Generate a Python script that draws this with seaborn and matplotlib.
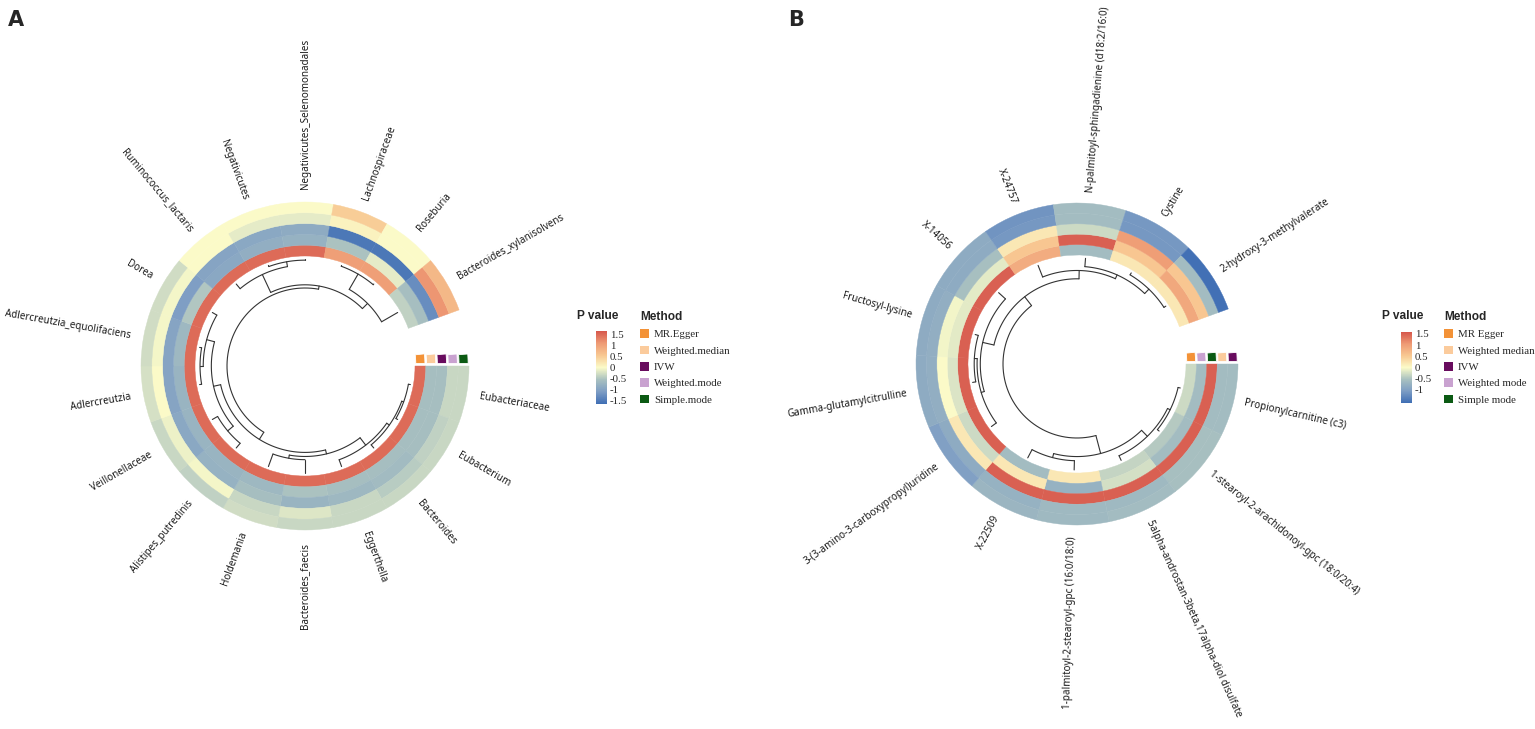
import numpy as np
import matplotlib
matplotlib.use("Agg")
import matplotlib.pyplot as plt
import seaborn as sns
from matplotlib.cm import ScalarMappable
from matplotlib.colors import Normalize
from matplotlib.patches import Patch
from matplotlib.font_manager import FontProperties

# ---------------- panel A data (clockwise from the gap) ----------------
A_TAXA = [
    "Eubacteriaceae", "Eubacterium", "Bacteroides", "Eggerthella",
    "Bacteroides_faecis", "Holdemania", "Alistipes_putredinis",
    "Veillonellaceae", "Adlercreutzia", "Adlercreutzia_equolifaciens",
    "Dorea", "Ruminococcus_lactaris", "Negativicutes",
    "Negativicutes_Selenomonadales", "Lachnospiraceae", "Roseburia",
    "Bacteroides_xylanisolvens",
]
A_METHODS = ["MR.Egger", "Weighted.median", "IVW", "Weighted.mode", "Simple.mode"]
A_EGGER = [1.5, 1.5, 1.5, 1.5, 1.5, 1.5, 1.5, 1.5, 1.5, 1.5, 1.5, 1.5, 1.5, 1.5, 1.05, 1.05, -0.4]
A_WMEDIAN = [-0.6, -0.6, -0.6, -0.6, -0.55, -0.7, -0.75, -0.75, -0.75, -0.7, -0.5, -0.95, -0.85, -0.8, -0.55, -0.15, -0.6]
A_IVW = [-0.6, -0.6, -0.65, -0.7, -0.75, -0.6, -0.8, -0.95, -1.0, -1.0, -1.1, -1.0, -0.95, -0.9, -1.55, -1.55, -1.3]
A_WMODE = [-0.35, -0.4, -0.45, -0.35, -0.2, -0.35, -0.05, -0.1, 0.0, -0.05, -0.05, 0.0, -0.15, -0.15, 0.1, 0.0, 1.15]
A_SMODE = [-0.35, -0.35, -0.35, -0.35, -0.35, -0.3, -0.4, -0.35, -0.25, -0.3, -0.3, 0.0, 0.0, 0.0, 0.5, 0.0, 0.75]
# dendrogram merges: (left node, right node, height); leaves are 0..16, new nodes 17, 18, ...
A_TREE = [
    (0, 1, 0.07), (17, 2, 0.14), (18, 3, 0.25), (4, 5, 0.46), (19, 20, 0.57),
    (6, 7, 0.21), (8, 9, 0.07), (23, 10, 0.18), (22, 24, 0.46), (21, 25, 0.71),
    (12, 13, 0.04), (11, 27, 0.21), (14, 15, 0.03), (29, 16, 0.64), (28, 30, 0.89),
    (26, 31, 1.0),
]

# ---------------- panel B data ----------------
B_METABOLITES = [
    "Propionylcarnitine (c3)", "1-stearoyl-2-arachidonoyl-gpc (18:0/20:4)",
    "5alpha-androstan-3beta,17alpha-diol disulfate",
    "1-palmitoyl-2-stearoyl-gpc (16:0/18:0)", "X-22509",
    "3-(3-amino-3-carboxypropyl)uridine", "Gamma-glutamylcitrulline",
    "Fructosyl-lysine", "X-14056", "X-24757",
    "N-palmitoyl-sphingadienine (d18:2/16:0)", "Cystine",
    "2-hydroxy-3-methylvalerate",
]
B_METHODS = ["MR Egger", "Weighted median", "IVW", "Weighted mode", "Simple mode"]
B_RING_ORDER = ["MR Egger", "Weighted mode", "Simple mode", "Weighted median", "IVW"]
B_EGGER = [-0.3, -0.45, -0.35, 0.2, -0.6, 1.5, 1.5, 1.5, 1.5, 0.85, -0.6, 0.2, 0.2]
B_WMODE = [-0.6, -0.6, -0.25, -0.75, 0.2, -0.3, -0.2, -0.15, -0.15, 0.55, 1.5, 0.55, 0.9]
B_SMODE = [1.5, 1.5, 1.5, 1.5, 1.5, 0.2, 0.0, -0.05, -0.55, 0.2, -0.3, 1.0, 0.55]
B_WMEDIAN = [-0.6, -0.55, -0.65, -0.65, -0.75, -0.85, -0.8, -0.8, -0.85, -1.1, -0.6, -1.1, -0.6]
B_IVW = [-0.6, -0.55, -0.6, -0.65, -0.7, -1.0, -0.85, -0.85, -0.85, -1.15, -0.6, -1.1, -1.55]
B_TREE = [
    (0, 1, 0.07), (13, 2, 0.16), (3, 4, 0.29), (15, 14, 0.42), (6, 7, 0.1),
    (5, 17, 0.19), (18, 8, 0.29), (11, 12, 0.07), (10, 20, 0.26), (9, 21, 0.39),
    (19, 22, 0.65), (16, 23, 1.0),
]

METHOD_COLORS = {
    "MR.Egger": "#f39237", "MR Egger": "#f39237",
    "Weighted.median": "#fbcb9c", "Weighted median": "#fbcb9c",
    "IVW": "#680c5e",
    "Weighted.mode": "#c9a2d0", "Weighted mode": "#c9a2d0",
    "Simple.mode": "#0b5a13", "Simple mode": "#0b5a13",
}

W, H = 1535, 729
CMAP = sns.blend_palette(
    ["#3f6eb4", "#7d9dc4", "#a9c1c0", "#fbfbc9", "#f8c892", "#ee9a74", "#d6574c"],
    as_cmap=True,
)
SERIF = FontProperties(family="Liberation Serif", size=7.8)
TITLE = FontProperties(family="Liberation Sans", weight="bold", size=8.6)
LABEL = FontProperties(family="Noto Sans", size=7.1)


def polar_axes(fig, cx, cy, radius=210):
    ax = fig.add_axes([(cx - radius) / W, (H - cy - radius) / H, 2 * radius / W, 2 * radius / H],
                      projection="polar")
    ax.set_theta_zero_location("E")
    ax.set_theta_direction(-1)
    ax.set_ylim(0, radius)
    ax.set_axis_off()
    return ax


def draw_circos(ax, labels, methods, rings, tree, norm, r_in, ring_w, r_leaf, r_root, label_gap):
    n = len(labels)
    width = np.deg2rad(340) / n
    theta = (np.arange(n) + 0.5) * width
    for k, vals in enumerate(rings):
        cols = CMAP(norm(np.array(vals)))
        ax.bar(theta, ring_w, width=width, bottom=r_in + k * ring_w, color=cols,
               edgecolor=cols, linewidth=0.3, align="center")
        # method key squares in the gap
        rc = r_in + (k + 0.5) * ring_w
        side = ring_w * 0.85
        ax.bar(-(side / 2 + 2.5) / rc, side, width=side / rc, bottom=rc - side / 2,
               color=METHOD_COLORS[methods[k]], edgecolor="white", linewidth=0.6)

    # dendrogram, leaves at r_leaf, tallest merge at r_root
    max_h = max(h for _, _, h in tree)
    pos = {i: (theta[i], r_leaf) for i in range(n)}
    for j, (a, b, h) in enumerate(tree):
        r_node = r_leaf - h / max_h * (r_leaf - r_root)
        ta, ra = pos[a]
        tb, rb = pos[b]
        ax.plot([ta, ta], [ra, r_node], color="#333333", lw=0.8)
        ax.plot([tb, tb], [rb, r_node], color="#333333", lw=0.8)
        arc = np.linspace(ta, tb, 60)
        ax.plot(arc, np.full_like(arc, r_node), color="#333333", lw=0.8)
        pos[n + j] = ((ta + tb) / 2, r_node)

    r_out = r_in + len(rings) * ring_w
    for i, lab in enumerate(labels):
        a = -np.rad2deg(theta[i])
        a = (a + 180) % 360 - 180
        if -90 < a <= 90:
            rot, ha = a, "left"
        else:
            rot, ha = a + 180, "right"
        ax.text(theta[i], r_out + label_gap, lab, rotation=rot, ha=ha, va="center",
                rotation_mode="anchor", fontproperties=LABEL, color="#1a1a1a")


def legends(fig, methods, norm, ticks, cbar_x, cbar_top, cbar_bottom, method_x):
    cax = fig.add_axes([cbar_x / W, 1 - cbar_bottom / H, 11 / W, (cbar_bottom - cbar_top) / H])
    cb = fig.colorbar(ScalarMappable(norm=norm, cmap=CMAP), cax=cax, ticks=ticks)
    cb.outline.set_visible(False)
    cax.tick_params(length=3, width=0.6, color="white", direction="in", pad=2)
    cax.set_yticklabels([f"{t:g}" for t in ticks], fontproperties=SERIF)
    fig.text((cbar_x - 19) / W, 1 - 316 / H, "P value", fontproperties=TITLE, va="center")

    handles = [Patch(facecolor=METHOD_COLORS[m], edgecolor="none") for m in methods]
    fig.legend(handles, methods, loc="upper left",
               bbox_to_anchor=(method_x / W, 1 - 311 / H), frameon=False,
               title="Method", title_fontproperties=TITLE, prop=SERIF,
               alignment="left", borderpad=0, borderaxespad=0,
               handlelength=0.85, handleheight=0.85, handletextpad=0.45,
               labelspacing=0.58)


def main() -> None:
    sns.set_theme(style="white")
    plt.rcParams["font.family"] = ["DejaVu Sans"]
    fig = plt.figure(figsize=(W / 100, H / 100), dpi=100)

    ax_a = polar_axes(fig, 305, 366)
    norm_a = Normalize(-1.68, 1.68)
    draw_circos(ax_a, A_TAXA, A_METHODS, [A_EGGER, A_WMEDIAN, A_IVW, A_WMODE, A_SMODE],
                A_TREE, norm_a, r_in=110, ring_w=10.8, r_leaf=107, r_root=78, label_gap=13)
    legends(fig, A_METHODS, norm_a, [1.5, 1, 0.5, 0, -0.5, -1, -1.5], 596, 331, 404, 640)

    ax_b = polar_axes(fig, 1077, 364)
    norm_b = Normalize(-1.58, 1.58)
    draw_circos(ax_b, B_METABOLITES, B_RING_ORDER, [B_EGGER, B_WMODE, B_SMODE, B_WMEDIAN, B_IVW],
                B_TREE, norm_b, r_in=109, ring_w=10.4, r_leaf=106, r_root=74, label_gap=11)
    legends(fig, B_METHODS, norm_b, [1.5, 1, 0.5, 0, -0.5, -1], 1401, 332, 403, 1444)

    fig.text(8 / W, 1 - 20 / H, "A", fontsize=15, weight="bold", va="center")
    fig.text(788 / W, 1 - 20 / H, "B", fontsize=15, weight="bold", va="center")
    fig.savefig("out.png", dpi=100)
    plt.close(fig)


if __name__ == "__main__":
    main()
